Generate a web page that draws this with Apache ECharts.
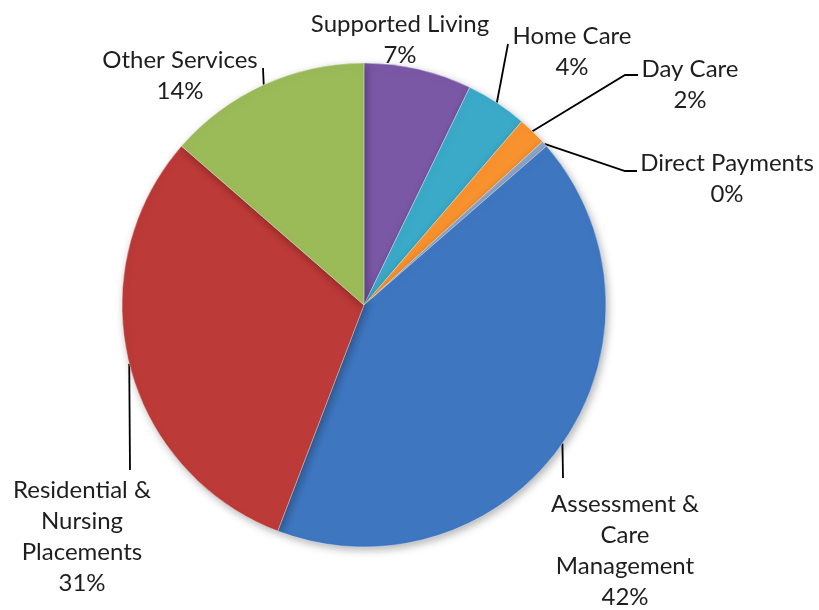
<!DOCTYPE html>
<html><head><meta charset="utf-8">
<script src="https://cdn.jsdelivr.net/npm/echarts@6/dist/echarts.min.js"></script>
<style>html,body{margin:0;padding:0;background:#fff}#c{width:819px;height:610px}</style>
</head><body><div id="c"></div>
<script>
var categories = ['Supported Living', 'Home Care', 'Day Care', 'Direct Payments', 'Assessment &\nCare\nManagement', 'Residential &\nNursing\nPlacements', 'Other Services'];
var values = [7.2, 4.1, 1.9, 0.4, 42.2, 30.6, 13.6];
var colors = ['#7B58A6', '#3AAAC8', '#F7922E', '#8FA6C8', '#3F76C0', '#BC3A37', '#9BBB59'];
// label block centres and leader-line end points (layout only)
var labelPos = [[400, 40], [572, 52], [690, 85], [727, 179], [625, 551], [82, 537], [180, 76]];
var lineEnds = [null, [[508, 44]], [[625, 75], [638, 75]], [[625, 171], [637, 171]], [[563, 478]], [[130, 470]], [[263, 68]]];

var chart = echarts.init(document.getElementById('c'), null, {renderer: 'canvas'});
chart.setOption({
  animation: false,
  series: [{
    type: 'pie',
    center: [364, 305],
    radius: 242,
    startAngle: 90,
    clockwise: true,
    percentPrecision: 0,
    data: categories.map(function (n, i) {
      return {name: n, value: values[i], itemStyle: {color: colors[i]}};
    }),
    itemStyle: {borderColor: 'rgba(255,255,255,0.35)', borderWidth: 1, shadowBlur: 8, shadowColor: 'rgba(0,0,0,0.3)', shadowOffsetX: 2, shadowOffsetY: 3},
    label: {
      show: true,
      position: 'outside',
      formatter: '{b}\n{d}%',
      fontFamily: 'Lato',
      fontSize: 24,
      lineHeight: 31,
      color: '#1e1e1e',
      align: 'center',
      overflow: 'none'
    },
    labelLine: {show: true, lineStyle: {color: '#000', width: 1.8}, length: 20, length2: 10},
    labelLayout: function (p) {
      var i = p.dataIndex;
      var pos = labelPos[i];
      var res = {x: pos[0], y: pos[1], align: 'center', verticalAlign: 'middle'};
      var start = p.labelLinePoints && p.labelLinePoints[0];
      if (lineEnds[i] && start) {
        res.labelLinePoints = [start].concat(lineEnds[i]);
      } else if (!lineEnds[i]) {
        res.labelLinePoints = [[0, 0], [0, 0]];
      }
      return res;
    }
  }]
});
</script></body></html>
